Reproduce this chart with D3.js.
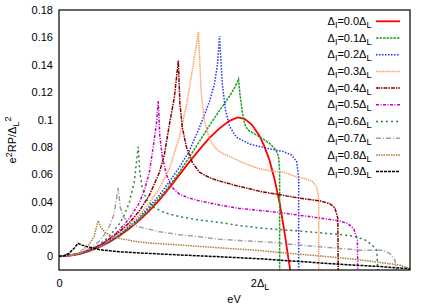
<!DOCTYPE html>
<html>
<head>
<meta charset="utf-8">
<script src="https://cdn.jsdelivr.net/npm/d3@7"></script>
<style>
body { margin: 0; background: #fff; }
svg { display: block; font-family: "Liberation Sans", Arial, sans-serif; }
</style>
</head>
<body>
<script>
// Δ_I / Δ_L ratio of each curve
const ratios = ["0.0", "0.1", "0.2", "0.3", "0.4", "0.5", "0.6", "0.7", "0.8", "0.9"];

// [eV / Δ_L, e^2 R P / Δ_L^2]
const curve00 = [[0,0],[0.1,0.0004],[0.2,0.0016],[0.3,0.0037],[0.4,0.0066],[0.5,0.0103],[0.6,0.0148],[0.7,0.0201],[0.8,0.0263],[0.9,0.0333],[1.0,0.041],[1.1,0.050],[1.2,0.0595],[1.3,0.069],[1.4,0.078],[1.5,0.0865],[1.6,0.0935],[1.7,0.099],[1.78,0.1015],[1.85,0.1005],[1.92,0.0965],[2.0,0.088],[2.05,0.080],[2.1,0.070],[2.15,0.056],[2.2,0.039],[2.25,0.017],[2.28,0.002],[2.31,-0.012]];
const curve01 = [[0,0],[0.2,0.0017],[0.4,0.0068],[0.6,0.0152],[0.8,0.027],[1.0,0.0425],[1.1,0.0515],[1.2,0.0615],[1.3,0.0725],[1.4,0.084],[1.5,0.0955],[1.6,0.1065],[1.7,0.117],[1.75,0.123],[1.79,0.1295],[1.805,0.118],[1.825,0.107],[1.85,0.097],[1.88,0.0925],[1.95,0.0895],[2.02,0.0865],[2.1,0.0825],[2.16,0.078],[2.19,0.073],[2.2,0.062],[2.2,-0.015]];
const curve02 = [[0,0],[0.2,0.0017],[0.4,0.007],[0.6,0.0157],[0.8,0.0282],[1.0,0.0445],[1.1,0.0545],[1.2,0.065],[1.3,0.077],[1.4,0.094],[1.5,0.113],[1.55,0.126],[1.58,0.14],[1.6,0.161],[1.61,0.148],[1.63,0.125],[1.66,0.107],[1.7,0.095],[1.77,0.087],[1.9,0.082],[2.07,0.079],[2.24,0.0765],[2.32,0.074],[2.37,0.069],[2.39,0.058],[2.39,-0.015]];
const curve03 = [[0,0],[0.2,0.0018],[0.4,0.0072],[0.6,0.0165],[0.8,0.030],[0.9,0.039],[1.0,0.0495],[1.1,0.064],[1.2,0.087],[1.27,0.11],[1.32,0.132],[1.36,0.15],[1.39,0.164],[1.405,0.14],[1.42,0.118],[1.45,0.099],[1.5,0.086],[1.55,0.080],[1.6,0.0765],[1.7,0.073],[1.8,0.0695],[1.9,0.0665],[2.0,0.064],[2.1,0.0625],[2.24,0.0615],[2.37,0.058],[2.47,0.0565],[2.53,0.0545],[2.57,0.0505],[2.59,0.042],[2.59,-0.015]];
const curve04 = [[0,0],[0.2,0.0019],[0.4,0.0076],[0.6,0.0178],[0.7,0.0245],[0.8,0.033],[0.9,0.0445],[1.0,0.061],[1.05,0.074],[1.1,0.096],[1.15,0.116],[1.19,0.143],[1.205,0.112],[1.23,0.094],[1.27,0.080],[1.33,0.0685],[1.4,0.0615],[1.5,0.0575],[1.6,0.055],[1.75,0.052],[2.0,0.0475],[2.2,0.045],[2.4,0.0425],[2.6,0.0405],[2.7,0.0385],[2.75,0.0355],[2.78,0.028],[2.785,-0.015]];
const curve05 = [[0,0],[0.2,0.002],[0.4,0.0078],[0.5,0.0128],[0.6,0.019],[0.7,0.0275],[0.8,0.039],[0.85,0.048],[0.9,0.061],[0.94,0.08],[0.97,0.096],[0.99,0.1135],[1.005,0.088],[1.03,0.073],[1.07,0.060],[1.12,0.051],[1.2,0.0455],[1.3,0.0425],[1.4,0.0405],[1.6,0.0375],[1.8,0.035],[2.0,0.0335],[2.2,0.032],[2.4,0.030],[2.6,0.028],[2.8,0.0258],[2.88,0.024],[2.94,0.020],[2.975,0.012],[2.98,-0.015]];
const curve06 = [[0,0],[0.2,0.0021],[0.3,0.0045],[0.4,0.0085],[0.5,0.0145],[0.6,0.0235],[0.65,0.030],[0.7,0.039],[0.75,0.054],[0.79,0.080],[0.805,0.062],[0.83,0.050],[0.87,0.042],[0.94,0.036],[1.05,0.032],[1.2,0.029],[1.4,0.0265],[1.6,0.0248],[1.8,0.0225],[2.0,0.0207],[2.2,0.0195],[2.4,0.0185],[2.6,0.0172],[2.8,0.016],[2.95,0.0145],[3.05,0.012],[3.12,0.0085],[3.17,0.004],[3.18,-0.015]];
const curve07 = [[0,0],[0.1,0.0006],[0.2,0.0022],[0.3,0.0055],[0.4,0.011],[0.45,0.0155],[0.5,0.0215],[0.55,0.031],[0.59,0.050],[0.61,0.036],[0.64,0.029],[0.7,0.0245],[0.8,0.0215],[1.0,0.018],[1.2,0.0158],[1.4,0.0143],[1.6,0.0125],[1.8,0.0115],[2.07,0.0105],[2.4,0.0082],[2.73,0.0062],[3.0,0.0045],[3.23,0.0045],[3.3,0.002],[3.35,-0.003],[3.37,-0.012]];
const curve08 = [[0,0],[0.1,0.0005],[0.2,0.0025],[0.3,0.0085],[0.35,0.0145],[0.39,0.026],[0.42,0.021],[0.46,0.0175],[0.52,0.0148],[0.61,0.013],[0.75,0.011],[0.9,0.0097],[1.2,0.0083],[1.6,0.0062],[2.0,0.0042],[2.4,0.0015],[2.8,-0.001],[3.1,-0.0035],[3.4,-0.0065],[3.52,-0.0095]];
const curve09 = [[0,0],[0.05,0.0003],[0.1,0.0022],[0.15,0.0058],[0.19,0.0095],[0.23,0.0082],[0.3,0.0066],[0.41,0.0048],[0.6,0.0033],[0.9,0.0021],[1.2,0.001],[1.6,-0.0003],[2.0,-0.0018],[2.4,-0.0038],[2.8,-0.0058],[3.2,-0.0075],[3.52,-0.0092]];

const curves = [curve00, curve01, curve02, curve03, curve04, curve05, curve06, curve07, curve08, curve09];

const yTicks = [0, 0.02, 0.04, 0.06, 0.08, 0.1, 0.12, 0.14, 0.16, 0.18];
const yTickLabels = ["0", "0.02", "0.04", "0.06", "0.08", "0.1", "0.12", "0.14", "0.16", "0.18"];
const xTicks = [0, 2];
const xTickLabels = [["0", ""], ["2Δ", "L"]];

// line styles (gnuplot-like)
const colors = ["#ff0000", "#1ea01e", "#1f2fff", "#ffa060", "#8b0000", "#c000c0", "#2f7f3a", "#a0a0a0", "#a8803a", "#000000"];
const dashes = [null, "2.5,1", "1.5,1.5", "1.5,0.8", "4,1,1.5,1", "3,1.5,1,1.5", "2,3", "5,2,1,2", "1.5,1", "3,1"];

const margin = {top: 10, right: 26, bottom: 35, left: 59};
const width = 436 - margin.left - margin.right;
const height = 305 - margin.top - margin.bottom;

const svg = d3.select("body").append("svg")
    .attr("width", 436)
    .attr("height", 305);

const g = svg.append("g")
    .attr("transform", "translate(" + margin.left + "," + margin.top + ")");

const x = d3.scaleLinear().domain([0, 3.5]).range([0, width]);
const y = d3.scaleLinear().domain([-0.01, 0.18]).range([height, 0]);

svg.append("defs").append("clipPath")
    .attr("id", "plot-clip")
    .append("rect")
    .attr("width", width)
    .attr("height", height);

// y axis
g.append("g")
    .call(d3.axisLeft(y).tickValues(yTicks).tickFormat((d, i) => yTickLabels[i]).tickSize(0).tickPadding(6))
    .call(a => a.select(".domain").remove())
    .attr("font-family", null)
    .attr("font-size", 11)
    .selectAll("text").attr("fill", "#000");

// x axis, labels may carry a subscript
g.append("g")
    .attr("transform", "translate(0," + height + ")")
    .call(d3.axisBottom(x).tickValues(xTicks).tickFormat(() => "").tickSize(0).tickPadding(9))
    .call(a => a.select(".domain").remove())
    .attr("font-family", null)
    .attr("font-size", 11)
    .selectAll("text")
    .attr("fill", "#000")
    .each(function (d, i) {
        const t = d3.select(this);
        t.append("tspan").text(xTickLabels[i][0]);
        if (xTickLabels[i][1]) {
            t.append("tspan").attr("dy", 3).attr("font-size", 9).text(xTickLabels[i][1]);
        }
    });

svg.append("text")
    .attr("x", 234)
    .attr("y", 303)
    .attr("text-anchor", "middle")
    .attr("font-size", 11)
    .text("eV");

const ylab = svg.append("text")
    .attr("transform", "translate(16,140) rotate(-90)")
    .attr("text-anchor", "middle")
    .attr("font-size", 11);
ylab.append("tspan").text("e");
ylab.append("tspan").attr("dy", -4).attr("font-size", 9).text("2");
ylab.append("tspan").attr("dy", 4).text("RP/Δ");
ylab.append("tspan").attr("dy", 3).attr("font-size", 9).text("L");
ylab.append("tspan").attr("dy", -8).attr("font-size", 9).text("2");

// curves
const line = d3.line()
    .x(d => x(d[0]))
    .y(d => y(d[1]));

const plot = g.append("g").attr("clip-path", "url(#plot-clip)");

plot.selectAll("path")
    .data(curves)
    .enter()
    .append("path")
    .attr("d", line)
    .attr("fill", "none")
    .attr("stroke", (d, i) => colors[i])
    .attr("stroke-width", (d, i) => i === 0 ? 1.8 : 1.5)
    .attr("stroke-dasharray", (d, i) => dashes[i]);

// frame
g.append("rect")
    .attr("width", width)
    .attr("height", height)
    .attr("fill", "none")
    .attr("stroke", "#000")
    .attr("stroke-width", 1.2);

// legend
const legend = g.append("g")
    .selectAll("g")
    .data(ratios)
    .enter()
    .append("g")
    .attr("transform", (d, i) => "translate(0," + (11.3 + i * 16.7) + ")");

legend.append("line")
    .attr("x1", 317)
    .attr("x2", 341)
    .attr("stroke", (d, i) => colors[i])
    .attr("stroke-width", (d, i) => i === 0 ? 1.8 : 1.5)
    .attr("stroke-dasharray", (d, i) => dashes[i]);

const legendText = legend.append("text")
    .attr("x", 312.5)
    .attr("y", 3.6)
    .attr("text-anchor", "end")
    .attr("font-size", 11);
legendText.append("tspan").text("Δ");
legendText.append("tspan").attr("dy", 3).attr("font-size", 9).text("I");
legendText.append("tspan").attr("dy", -3).text(d => "=" + d + "Δ");
legendText.append("tspan").attr("dy", 3).attr("font-size", 9).text("L");
</script>
</body>
</html>
